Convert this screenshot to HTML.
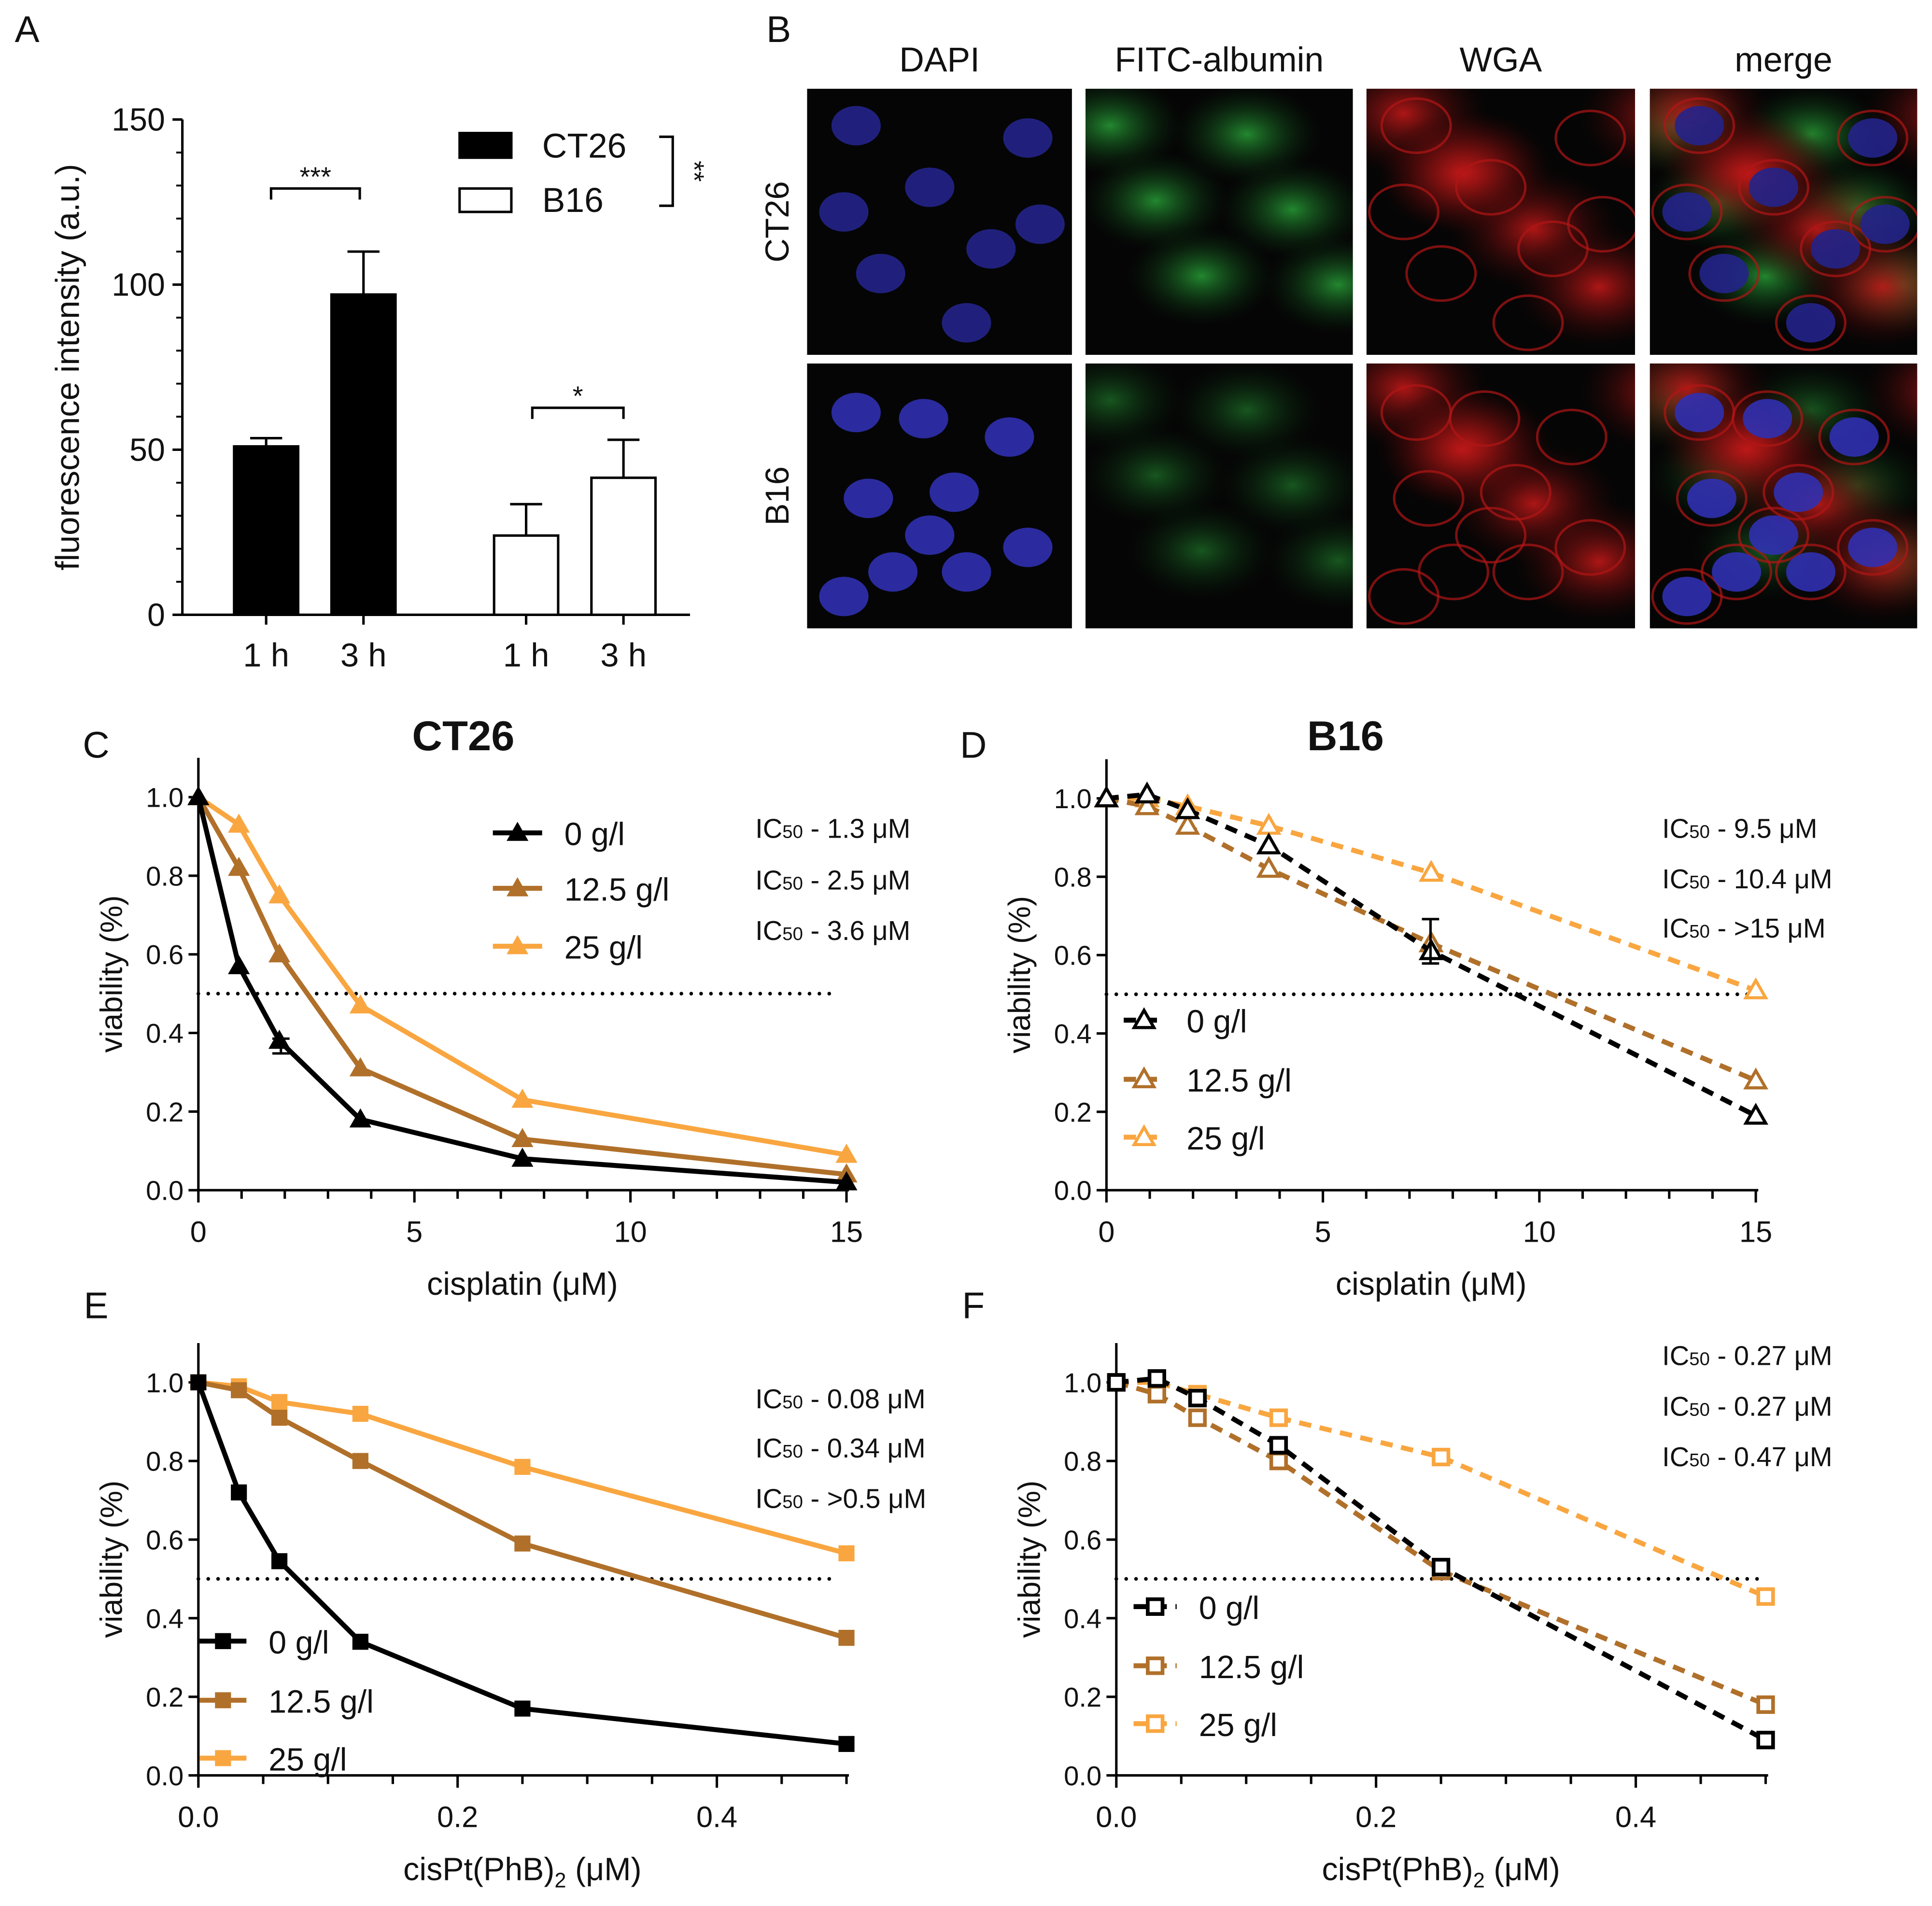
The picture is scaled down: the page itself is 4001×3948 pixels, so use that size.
<!DOCTYPE html>
<html><head><meta charset="utf-8"><style>
html,body{margin:0;padding:0;background:#fff}
svg{display:block}
text{font-family:"Liberation Sans",Arial,sans-serif;fill:#111}
</style></head><body>
<svg id="fig" xmlns="http://www.w3.org/2000/svg" width="4001" height="3948" viewBox="0 0 1568 1547" preserveAspectRatio="none">
<defs id="defs">
<radialGradient id="gB"><stop offset="0" stop-color="#3a3acc"/><stop offset="1" stop-color="#1a1a70" stop-opacity="0"/></radialGradient>
<radialGradient id="gG"><stop offset="0" stop-color="#2aa83a"/><stop offset="1" stop-color="#0a3010" stop-opacity="0"/></radialGradient>
<radialGradient id="gR"><stop offset="0" stop-color="#c01818"/><stop offset="1" stop-color="#300505" stop-opacity="0"/></radialGradient>
</defs>
<g id="root"></g>
</svg>
<script>
// ---- Panel A data ----
const barGroups = ["CT26 1 h","CT26 3 h","B16 1 h","B16 3 h"];
const barValues = [51, 97, 24, 41.5];
const barErrors = [2.5, 13, 9.5, 11.5];
const barTickLabels = ["1 h","3 h","1 h","3 h"];
const aYTicks = [0,50,100,150];
// ---- Panel C/D data ----
const cisX = [0, 0.9375, 1.875, 3.75, 7.5, 15];
const cT0 = [1.0, 0.57, 0.38, 0.18, 0.08, 0.02];
const cT12 = [1.0, 0.82, 0.60, 0.31, 0.13, 0.04];
const cT25 = [1.0, 0.93, 0.75, 0.47, 0.23, 0.09];
const dB0 = [1.0, 1.01, 0.97, 0.88, 0.61, 0.19];
const dB12 = [1.0, 0.98, 0.93, 0.82, 0.63, 0.28];
const dB25 = [1.0, 1.0, 0.98, 0.93, 0.81, 0.51];
const cisTicks = [0,5,10,15];
// ---- Panel E/F data ----
const ptX = [0, 0.03125, 0.0625, 0.125, 0.25, 0.5];
const eT0 = [1.0, 0.72, 0.545, 0.34, 0.17, 0.08];
const eT12 = [1.0, 0.98, 0.91, 0.80, 0.59, 0.35];
const eT25 = [1.0, 0.99, 0.95, 0.92, 0.785, 0.565];
const fB0 = [1.0, 1.01, 0.96, 0.84, 0.53, 0.09];
const fB12 = [1.0, 0.97, 0.91, 0.80, 0.52, 0.18];
const fB25 = [1.0, 1.0, 0.97, 0.91, 0.81, 0.455];
const ptTicks = [0, 0.2, 0.4];
const vTicks = [0,0.2,0.4,0.6,0.8,1.0];
const seriesLabels = ["0 g/l","12.5 g/l","25 g/l"];
const cIC = ["1.3 μM","2.5 μM","3.6 μM"];
const dIC = ["9.5 μM","10.4 μM",">15 μM"];
const eIC = ["0.08 μM","0.34 μM",">0.5 μM"];
const fIC = ["0.27 μM","0.27 μM","0.47 μM"];
const colors = ["#000000","#b0702a","#f9a640"];

const NS="http://www.w3.org/2000/svg";
const root=document.getElementById('root');
const defs=document.getElementById('defs');
function el(tag,attrs,parent){const e=document.createElementNS(NS,tag);for(const k in attrs)e.setAttribute(k,attrs[k]);(parent||root).appendChild(e);return e;}
function txt(s,x,y,size,anchor,parent,extra){const t=el('text',Object.assign({x:x,y:y,'font-size':size,'text-anchor':anchor||'start'},extra||{}),parent);t.textContent=s;return t;}

[["A",22,34],["B",632,34],["C",78,615],["D",790,615],["E",78,1070],["F",790,1070]].forEach(function(p){
  const t=txt(p[0],p[1],p[2],30,'middle');
  
  
});

// ---------- Panel A ----------
(function(){
  const g=el('g',{});
  
  
  const y0=499, ppu=402/150;
  const Y=v=>y0-v*ppu;
  el('line',{x1:148,y1:Y(150),x2:148,y2:y0,stroke:'#000','stroke-width':2},g);
  el('line',{x1:148,y1:y0,x2:560,y2:y0,stroke:'#000','stroke-width':2},g);
  aYTicks.forEach(v=>{
    el('line',{x1:140,y1:Y(v),x2:148,y2:Y(v),stroke:'#000','stroke-width':2},g);
    const t=txt(String(v),134,Y(v)+9,26,'end',g);
    
    
  });
  for(let v=10;v<150;v+=10){ if(v%50) el('line',{x1:143,y1:Y(v),x2:148,y2:Y(v),stroke:'#000','stroke-width':1.5},g); }
  const yt=txt('fluorescence intensity (a.u.)',0,0,27,'middle',g,{transform:'translate(64,298) rotate(-90)'});
  
  
  const centers=[216,295,427,506], w=52;
  barValues.forEach((v,i)=>{
    const filled=i<2;
    const r=el('rect',{x:centers[i]-w/2,y:Y(v),width:w,height:y0-Y(v),fill:filled?'#000':'#fff',stroke:'#000','stroke-width':2},g);
    
    
    const top=Y(v+barErrors[i]);
    el('line',{x1:centers[i],y1:Y(v),x2:centers[i],y2:top,stroke:'#000','stroke-width':2},g);
    el('line',{x1:centers[i]-13,y1:top,x2:centers[i]+13,y2:top,stroke:'#000','stroke-width':2},g);
    el('line',{x1:centers[i],y1:y0,x2:centers[i],y2:y0+8,stroke:'#000','stroke-width':2},g);
    const t=txt(barTickLabels[i],centers[i],541,27,'middle',g);
    
    
  });
  function bracket(x1,x2,y,lab,name){
    const p=el('path',{d:`M${x1},${y+9} V${y} H${x2} V${y+9}`,fill:'none',stroke:'#000','stroke-width':2},g);
    
    
    txt(lab,(x1+x2)/2,y-2,22,'middle',g);
  }
  bracket(220,292,153,'***','significance-ct26');
  bracket(432,506,331,'*','significance-b16');
  const lg=el('g',{},g);
  
  
  el('rect',{x:373,y:108,width:42,height:20,fill:'#000',stroke:'#000','stroke-width':2},lg);
  el('rect',{x:373,y:153,width:42,height:19,fill:'#fff',stroke:'#000','stroke-width':2},lg);
  txt('CT26',440,128,28,'start',lg);
  txt('B16',440,172,28,'start',lg);
  el('path',{d:'M535,111 H546 V167 H535',fill:'none',stroke:'#000','stroke-width':2},lg);
  txt('**',0,0,22,'middle',lg,{transform:'translate(556,139) rotate(90)'});
})();

// ---------- Panel B ----------
(function(){
  const g=el('g',{});
  
  
  const cols=[[655,870],[881,1098],[1109,1327],[1339,1556]];
  const rows=[[72,288],[295,510]];
  const titles=['DAPI','FITC-albumin','WGA','merge'];
  titles.forEach((s,i)=>{
    const t=txt(s,(cols[i][0]+cols[i][1])/2,58,28,'middle',g);
    
    
  });
  ['CT26','B16'].forEach((s,j)=>{
    const t=txt(s,0,0,27,'middle',g,{transform:`translate(640,${(rows[j][0]+rows[j][1])/2}) rotate(-90)`});
    
    
  });
  const nucA=[[40,30],[100,80],[150,130],[60,150],[180,40],[130,190],[30,100],[190,110]];
  const nucB=[[40,40],[95,45],[165,60],[50,110],[120,105],[180,150],[70,170],[130,170],[30,190],[100,140]];
  rows.forEach((r,j)=>{
    cols.forEach((c,i)=>{
      const w=c[1]-c[0], h=r[1]-r[0];
      const cid='clip'+j+'_'+i;
      const cp=el('clipPath',{id:cid},defs);
      el('rect',{x:c[0],y:r[0],width:w,height:h},cp);
      const cell=el('g',{'clip-path':'url(#'+cid+')'},g);
      
      
      el('rect',{x:c[0],y:r[0],width:w,height:h,fill:'#050505'},cell);
      const nuc=j?nucB:nucA;
      if(i===1||i===3){
        for(let k=0;k<6;k++) el('ellipse',{cx:c[0]+20+(k*37)%w,cy:r[0]+30+(k*61)%(h-40),rx:60,ry:40,fill:'url(#gG)',opacity:j?0.5:0.8},cell);
      }
      if(i===2||i===3){
        for(let k=0;k<6;k++) el('ellipse',{cx:c[0]+30+(k*53)%w,cy:r[0]+20+(k*47)%(h-30),rx:70,ry:50,fill:'url(#gR)',opacity:0.9},cell);
        nuc.forEach(n=>el('ellipse',{cx:c[0]+n[0]*w/216,cy:r[0]+n[1]*h/216,rx:28,ry:22,fill:'none',stroke:'#b01515','stroke-width':2,opacity:0.7},cell));
      }
      if(i===0||i===3){
        nuc.forEach(n=>el('ellipse',{cx:c[0]+n[0]*w/216,cy:r[0]+n[1]*h/216,rx:20,ry:16,fill:j?'#3030b0':'#24248a',opacity:0.9},cell));
      }
    });
  });
})();

// ---------- Line panels ----------
function linePanel(o){
  const g=el('g',{});
  
  
  const X=v=>o.x0+(v-o.xmin)*(o.x1-o.x0)/(o.xmax-o.xmin);
  const Y=v=>o.y0-v*(o.y0-o.y1);
  const ax=o.axisX;
  el('line',{x1:ax,y1:Y(1.1),x2:ax,y2:o.y0,stroke:'#000','stroke-width':2},g);
  el('line',{x1:ax,y1:o.y0,x2:X(o.xmax)+2,y2:o.y0,stroke:'#000','stroke-width':2},g);
  vTicks.forEach(v=>{
    el('line',{x1:ax-8,y1:Y(v),x2:ax,y2:Y(v),stroke:'#000','stroke-width':2},g);
    const t=txt(v.toFixed(1),ax-12,Y(v)+8,22,'end',g);
    
    
  });
  for(let v=o.xmin;v<=o.xmax+1e-9;v+=o.minor){
    const major=o.ticks.some(t=>Math.abs(t-v)<1e-9);
    el('line',{x1:X(v),y1:o.y0,x2:X(v),y2:o.y0+(major?10:7),stroke:'#000','stroke-width':2},g);
  }
  o.ticks.forEach(v=>{
    const t=txt(o.fmt(v),X(v),o.y0+42,24,'middle',g);
    
    
  });
  const xt=el('text',{x:(X(o.xmin)+X(o.xmax))/2,y:o.y0+85,'font-size':26,'text-anchor':'middle'},g);
  xt.innerHTML=o.xtitle;
  
  
  const yt=txt('viability (%)',0,0,25,'middle',g,{transform:`translate(${ax-62},${Y(0.55)}) rotate(-90)`});
  
  
  const dl=el('line',{x1:X(o.xmin),y1:Y(0.5),x2:X(o.xmax)-6,y2:Y(0.5),stroke:'#000','stroke-width':3,'stroke-dasharray':'0 8','stroke-linecap':'round'},g);
  
  
  function marker(x,y,c,parent){
    if(o.shape==='tri'){
      return el('path',{d:`M${x},${y-8} L${x+8},${y+6} L${x-8},${y+6} Z`,fill:o.open?'#fff':c,stroke:c,'stroke-width':o.open?2.5:1},parent);
    }
    return el('rect',{x:x-6,y:y-6,width:12,height:12,fill:o.open?'#fff':c,stroke:c,'stroke-width':o.open?3:1},parent);
  }
  o.series.slice().reverse().forEach((s,ri)=>{
    const i=o.series.length-1-ri;
    const sg=el('g',{},g);
    
    
    const pts=s.map((v,k)=>X(o.xs[k])+','+Y(v)).join(' ');
    el('polyline',{points:pts,fill:'none',stroke:colors[i],'stroke-width':4,'stroke-dasharray':o.open?'10 7':'none','stroke-linejoin':'round'},sg);
    s.forEach((v,k)=>{
      const m=marker(X(o.xs[k]),Y(v),colors[i],sg);
      
      
    });
  });
  const lg=el('g',{},g);
  
  
  seriesLabels.forEach((s,i)=>{
    const y=o.legY[i];
    const e=el('g',{},lg);
    
    
    el('line',{x1:o.legX,y1:y,x2:o.legX+o.legW,y2:y,stroke:colors[i],'stroke-width':4,'stroke-dasharray':o.open?'10 7':'none'},e);
    marker(o.legX+o.legW/2,y,colors[i],e);
    txt(s,o.legX+o.legW+18,y+10,26,'start',e);
  });
  o.ic.forEach((s,i)=>{
    const t=el('text',{x:o.icX,y:o.icY[i],'font-size':22},g);
    t.innerHTML='IC<tspan font-size="15">50</tspan> - '+s.replace('>','&gt;');
    
    
  });
  if(o.title){
    const t=txt(o.title,o.titleX,609,34,'middle',g,{'font-weight':'bold'});
    
    
  }
}
const cisTitle='cisplatin (μM)';
const ptTitle='cisPt(PhB)<tspan font-size="17" dy="6">2</tspan><tspan dy="-6"> (μM)</tspan>';
linePanel({name:'panel-c-ct26-cisplatin',xs:cisX,series:[cT0,cT12,cT25],xmin:0,xmax:15,x0:161,x1:687,y0:966,y1:647,axisX:161,ticks:cisTicks,minor:1,fmt:v=>String(v),xtitle:cisTitle,shape:'tri',open:false,legX:400,legW:40,legY:[676,721,768],icX:613,icY:[680,722,763],ic:cIC,title:'CT26',titleX:376});
linePanel({name:'panel-d-b16-cisplatin',xs:cisX,series:[dB0,dB12,dB25],xmin:0,xmax:15,x0:898,x1:1425,y0:966,y1:648,axisX:898,ticks:cisTicks,minor:1,fmt:v=>String(v),xtitle:cisTitle,shape:'tri',open:true,legX:912,legW:33,legY:[828,876,923],icX:1349,icY:[680,721,761],ic:dIC,title:'B16',titleX:1092});
linePanel({name:'panel-e-ct26-cispt',xs:ptX,series:[eT0,eT12,eT25],xmin:0,xmax:0.5,x0:161,x1:687,y0:1441,y1:1122,axisX:161,ticks:ptTicks,minor:0.05,fmt:v=>v.toFixed(1),xtitle:ptTitle,shape:'sq',open:false,legX:162,legW:38,legY:[1332,1380,1427],icX:613,icY:[1143,1183,1224],ic:eIC});
linePanel({name:'panel-f-b16-cispt',xs:ptX,series:[fB0,fB12,fB25],xmin:0,xmax:0.5,x0:906,x1:1433,y0:1441,y1:1122,axisX:906,ticks:ptTicks,minor:0.05,fmt:v=>v.toFixed(1),xtitle:ptTitle,shape:'sq',open:true,legX:920,legW:35,legY:[1304,1352,1399],icX:1349,icY:[1108,1149,1190],ic:fIC});
(function(){
  const e=el('path',{d:'M221,843 H235 M228,843 V855 M221,855 H235 M1154,746 H1168 M1161,746 V782 M1154,782 H1168',stroke:'#000','stroke-width':2,fill:'none'});
  
  
})();
</script>
</body></html>
